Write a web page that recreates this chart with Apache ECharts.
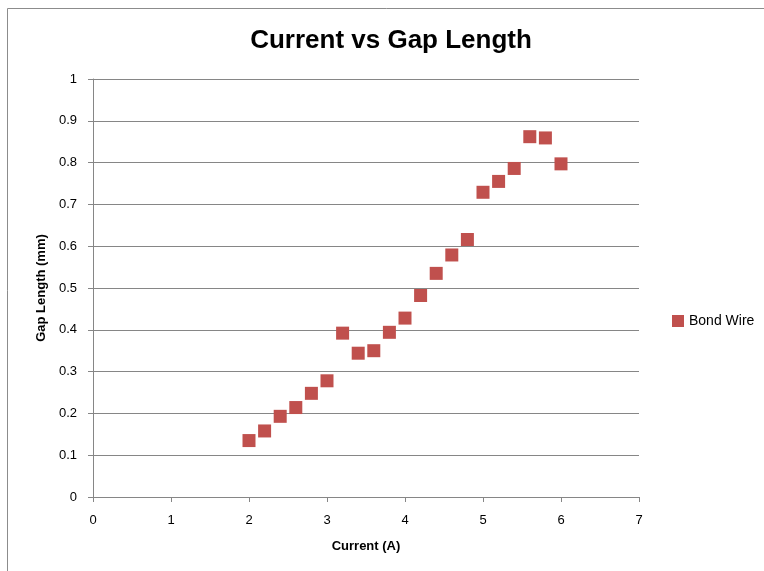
<!DOCTYPE html>
<html><head><meta charset="utf-8">
<script src="https://cdn.jsdelivr.net/npm/echarts@6/dist/echarts.min.js"></script>
<style>html,body{margin:0;padding:0;background:#fff}#c{width:764px;height:571px}</style>
</head><body><div id="c"></div>
<script>
const current = [2.0, 2.2, 2.4, 2.6, 2.8, 3.0, 3.2, 3.4, 3.6, 3.8, 4.0, 4.2, 4.4, 4.6, 4.8, 5.0, 5.2, 5.4, 5.6, 5.8, 6.0];
const gapLength = [0.135, 0.158, 0.193, 0.214, 0.248, 0.278, 0.392, 0.344, 0.350, 0.394, 0.428, 0.482, 0.535, 0.579, 0.616, 0.729, 0.755, 0.786, 0.862, 0.859, 0.797];
const seriesName = 'Bond Wire';
const titleText = 'Current vs Gap Length';
const xName = 'Current (A)';
const yName = 'Gap Length (mm)';

const chart = echarts.init(document.getElementById('c'));
const font = '"Liberation Sans", Arial, sans-serif';
chart.setOption({
  animation: false,
  textStyle: {fontFamily: font},
  graphic: [{type: 'rect', shape: {x: 7.5, y: 8.5, width: 800, height: 600}, style: {fill: 'none', stroke: '#8c8c8c', lineWidth: 1}, z: -1}],
  title: {text: titleText, left: 386, top: 23, textAlign: 'center',
    textStyle: {fontFamily: font, fontSize: 26, fontWeight: 'bold', color: '#000'}},
  legend: {data: [{name: seriesName, icon: 'rect'}], left: 667, top: 309, itemWidth: 12, itemHeight: 12, itemGap: 5,
    textStyle: {fontFamily: font, fontSize: 14, color: '#000'}},
  grid: {left: 93, right: 125, top: 79, bottom: 74},
  xAxis: {type: 'value', min: 0, max: 7, interval: 1, name: xName, nameLocation: 'middle', nameGap: 43,
    nameTextStyle: {fontWeight: 'bold', fontSize: 13, color: '#000'},
    axisLine: {lineStyle: {color: '#868686'}}, axisTick: {show: true, length: 5, lineStyle: {color: '#868686'}},
    axisLabel: {color: '#000', fontSize: 13, margin: 17}, splitLine: {show: false}},
  yAxis: {type: 'value', min: 0, max: 1, interval: 0.1, name: yName, nameLocation: 'middle', nameGap: 45,
    nameTextStyle: {fontWeight: 'bold', fontSize: 13, color: '#000'},
    axisLine: {show: true, lineStyle: {color: '#868686'}}, axisTick: {show: true, length: 5, lineStyle: {color: '#868686'}},
    axisLabel: {color: '#000', fontSize: 13, margin: 16}, splitLine: {lineStyle: {color: '#868686'}}},
  series: [{name: seriesName, type: 'scatter', symbol: 'rect', symbolSize: 13,
    itemStyle: {color: '#C0504D', opacity: 1},
    data: current.map((x, i) => [x, gapLength[i]])}]
});
</script></body></html>
